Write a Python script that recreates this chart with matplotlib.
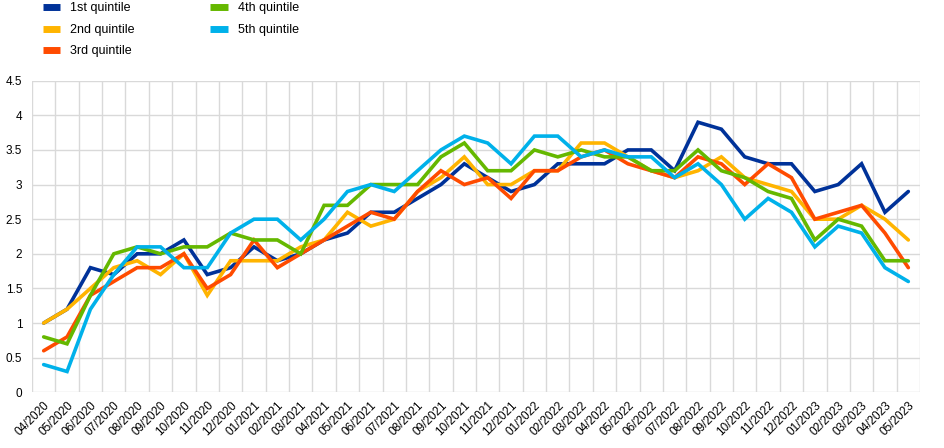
import matplotlib
matplotlib.use("Agg")
import matplotlib.pyplot as plt
import numpy as np

months = ["04/2020","05/2020","06/2020","07/2020","08/2020","09/2020","10/2020","11/2020","12/2020",
          "01/2021","02/2021","03/2021","04/2021","05/2021","06/2021","07/2021","08/2021","09/2021",
          "10/2021","11/2021","12/2021","01/2022","02/2022","03/2022","04/2022","05/2022","06/2022",
          "07/2022","08/2022","09/2022","10/2022","11/2022","12/2022","01/2023","02/2023","03/2023",
          "04/2023","05/2023"]

q1 = [1.0,1.2,1.8,1.7,2.0,2.0,2.2,1.7,1.8,2.1,1.9,2.0,2.2,2.3,2.6,2.6,2.8,3.0,3.3,3.1,2.9,3.0,3.3,3.3,3.3,
      3.5,3.5,3.2,3.9,3.8,3.4,3.3,3.3,2.9,3.0,3.3,2.6,2.9]
q2 = [1.0,1.2,1.5,1.8,1.9,1.7,2.0,1.4,1.9,1.9,1.9,2.1,2.2,2.6,2.4,2.5,2.9,3.1,3.4,3.0,3.0,3.2,3.2,3.6,3.6,
      3.4,3.2,3.1,3.2,3.4,3.1,3.0,2.9,2.5,2.5,2.7,2.5,2.2]
q3 = [0.6,0.8,1.4,1.6,1.8,1.8,2.0,1.5,1.7,2.2,1.8,2.0,2.2,2.4,2.6,2.5,2.9,3.2,3.0,3.1,2.8,3.2,3.2,3.4,3.5,
      3.3,3.2,3.1,3.4,3.3,3.0,3.3,3.1,2.5,2.6,2.7,2.3,1.8]
q4 = [0.8,0.7,1.4,2.0,2.1,2.0,2.1,2.1,2.3,2.2,2.2,2.0,2.7,2.7,3.0,3.0,3.0,3.4,3.6,3.2,3.2,3.5,3.4,3.5,3.4,
      3.4,3.2,3.2,3.5,3.2,3.1,2.9,2.8,2.2,2.5,2.4,1.9,1.9]
q5 = [0.4,0.3,1.2,1.7,2.1,2.1,1.8,1.8,2.3,2.5,2.5,2.2,2.5,2.9,3.0,2.9,3.2,3.5,3.7,3.6,3.3,3.7,3.7,3.4,3.5,
      3.4,3.4,3.1,3.3,3.0,2.5,2.8,2.6,2.1,2.4,2.3,1.8,1.6]

labels = ["1st quintile","2nd quintile","3rd quintile","4th quintile","5th quintile"]
colors = ["#003299","#ffb400","#ff4b00","#65b800","#00b1ea"]
series = [q1,q2,q3,q4,q5]

plt.rcParams['font.family'] = ['Liberation Sans','DejaVu Sans']

fig = plt.figure(figsize=(9.45,4.48), dpi=100)
ax = fig.add_axes([32/945, 1-392.3/448, (920-32)/945, (392.3-80.7)/448])

x = np.arange(len(months))
handles = []
for s, c, l in zip(series, colors, labels):
    h, = ax.plot(x, s, color=c, lw=2.6, label=l, solid_capstyle='round', solid_joinstyle='miter', zorder=3)
    handles.append(h)

ax.set_xlim(-0.5, len(months)-0.5)
ax.set_ylim(0, 4.5)
ax.set_yticks(np.arange(0, 4.51, 0.5))
ax.set_yticklabels(["0","0.5","1","1.5","2","2.5","3","3.5","4","4.5"], fontsize=8.5)
ax.set_xticks(x)
ax.set_xticklabels(months, rotation=45, ha='right', rotation_mode='anchor', fontsize=8.5)
ax.set_xticks(np.arange(-0.5, len(months), 1), minor=True)
ax.tick_params(axis='both', which='both', length=0)
ax.tick_params(axis='y', pad=7)
ax.tick_params(axis='x', pad=5)
ax.grid(False)
for yv in np.arange(0, 4.51, 0.5):
    ax.axhline(yv, color='#d9d9d9', lw=1.0, zorder=1)
ax.grid(True, which='minor', axis='x', color='#d9d9d9', lw=1.0, zorder=1)
for sp in ax.spines.values():
    sp.set_visible(False)

leg = fig.legend(handles, labels, loc='upper left', bbox_to_anchor=(43/945, 1 - 2.5/448), ncol=2,
                 frameon=False, fontsize=9, handlelength=1.4, handleheight=0.6,
                 columnspacing=6.0, labelspacing=0.75, handletextpad=0.8,
                 borderpad=0, borderaxespad=0)
for lh in leg.get_lines():
    lh.set_linewidth(5)
    lh.set_solid_capstyle('butt')

fig.savefig("out.png", dpi=100)
